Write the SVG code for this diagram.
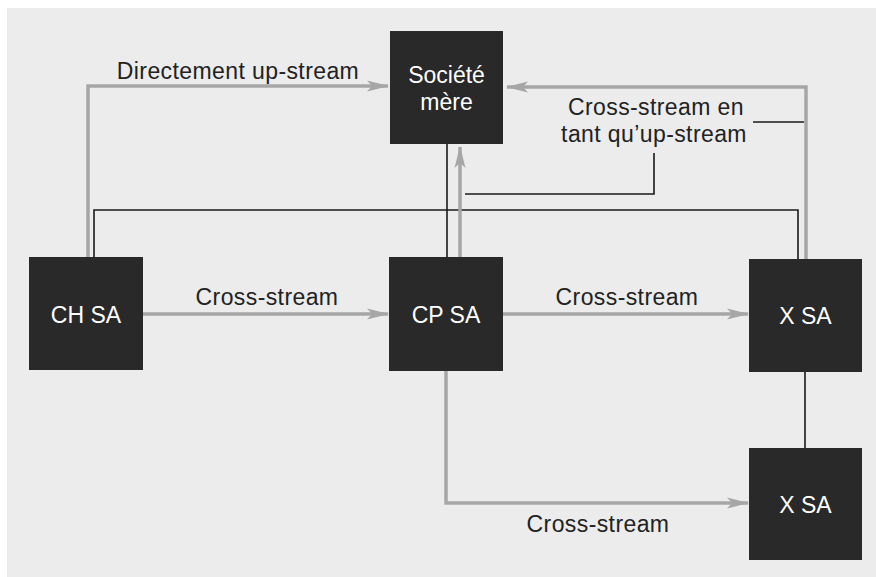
<svg xmlns="http://www.w3.org/2000/svg" width="876" height="577" viewBox="0 0 876 577">
<defs>
<marker id="ah" viewBox="0 0 22 12" refX="21" refY="6" markerWidth="22" markerHeight="12" markerUnits="userSpaceOnUse" orient="auto">
<path d="M0,0.5 L22,6 L0,11.5 L5,6 Z" fill="#a6a6a6"/>
</marker>
<style>
.bg{fill:#ececec}
.box{fill:#292929}
.wt{fill:#ffffff;font-family:"Liberation Sans",Arial,sans-serif;font-size:23px;text-anchor:middle}
.lb{fill:#222222;font-family:"Liberation Sans",Arial,sans-serif;font-size:23px;letter-spacing:0.4px;text-anchor:middle}
.gr{fill:none;stroke:#a6a6a6;stroke-width:3.5;marker-end:url(#ah)}
.bk{fill:none;stroke:#1a1a1a;stroke-width:1.6}
</style>
</defs>
<rect x="0" y="0" width="876" height="577" fill="#ffffff"/>
<rect class="bg" x="7" y="8" width="869" height="569"/>
<g id="connectors">
<path class="gr" d="M88,257 V86 H388"/>
<path class="bk" d="M94,257 V210 H798 V259"/>
<line class="bk" x1="447" y1="257" x2="447" y2="144"/>
<path class="gr" d="M460,257 V147"/>
<path class="bk" d="M465,194 H654 V153"/>
<path class="gr" d="M806,259 V87 H507"/>
<line class="bk" x1="753" y1="122" x2="804" y2="122"/>
<path class="gr" d="M143,314 H388"/>
<path class="gr" d="M503,314 H748"/>
<path class="gr" d="M446,371 V503 H748"/>
<line class="bk" x1="805" y1="372" x2="805" y2="448"/>
<text class="lb" x="238" y="79">Directement up-stream</text>
<text class="lb" x="656" y="115">Cross-stream en</text>
<text class="lb" x="654" y="142">tant qu’up-stream</text>
<text class="lb" x="267" y="305">Cross-stream</text>
<text class="lb" x="627" y="305">Cross-stream</text>
<text class="lb" x="598" y="532">Cross-stream</text>
</g>
<g id="societe-mere">
<rect class="box" x="390" y="31" width="113" height="113"/>
<text class="wt" x="446.5" y="83">Société</text>
<text class="wt" x="446.5" y="110">mère</text>
</g>
<g id="ch-sa">
<rect class="box" x="29" y="257" width="114" height="113"/>
<text class="wt" x="86" y="323">CH SA</text>
</g>
<g id="cp-sa">
<rect class="box" x="389" y="257" width="114" height="114"/>
<text class="wt" x="446" y="323">CP SA</text>
</g>
<g id="x-sa-1">
<rect class="box" x="749" y="259" width="113" height="113"/>
<text class="wt" x="805.5" y="324">X SA</text>
</g>
<g id="x-sa-2">
<rect class="box" x="749" y="448" width="113" height="112"/>
<text class="wt" x="805.5" y="513">X SA</text>
</g>
</svg>
